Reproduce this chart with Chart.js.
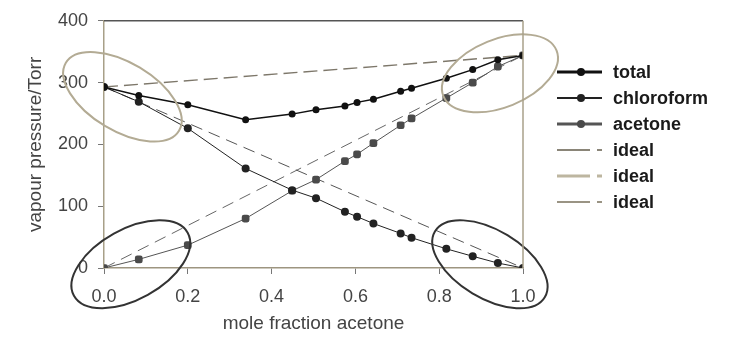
<!DOCTYPE html>
<html><head><meta charset="utf-8">
<script src="https://cdn.jsdelivr.net/npm/chart.js@4"></script>
<style>html,body{margin:0;padding:0;background:#fff}#wrap{width:729px;height:339px}</style>
</head><body><div id="wrap"><canvas id="c" width="729" height="339"></canvas></div>
<script>
// ---- data ----
const moleFraction       = [0, 0.083, 0.2, 0.338, 0.449, 0.506, 0.575, 0.604, 0.643, 0.708, 0.734, 0.817, 0.880, 0.940, 1.0];
const totalPressure      = [293, 279, 264, 240, 249, 256, 262, 268, 273, 286, 291, 307, 321, 337, 344];
const chloroformPressure = [293, 269, 226, 161, 126, 113, 91, 83, 72, 56, 49, 31, 19, 8, 0];
const acetonePressure    = [0, 14, 37, 80, 125, 143, 173, 184, 202, 231, 242, 275, 300, 326, 344];
const idealX             = [0, 1];
const idealTotal         = [293, 344];
const idealChloroform    = [293, 0];
const idealAcetone       = [0, 344];
const xTickValues        = [0, 0.2, 0.4, 0.6, 0.8, 1.0];
const yTickValues        = [0, 100, 200, 300, 400];
const seriesLabels       = ['total', 'chloroform', 'acetone', 'ideal', 'ideal', 'ideal'];
// highlighted regions (centre in data units)
const ringCentresX       = [0.044, 0.945, 0.064, 0.921];
const ringCentresY       = [277, 315, 6, 6];

const pts = (xs, ys) => xs.map((x, i) => ({x, y: ys[i]}));
const FONT = "'Liberation Sans', Arial, sans-serif";

const ringStyle = [
  {a: 66, b: 34, rot: 31, color: '#b3ab94'},
  {a: 61, b: 34, rot: -22, color: '#b3ab94'},
  {a: 65, b: 35, rot: -29, color: '#333333'},
  {a: 64, b: 34, rot: 31, color: '#333333'}
];

const ringsPlugin = {
  id: 'rings',
  afterDatasetsDraw(chart) {
    const {ctx, scales: {x, y}} = chart;
    ctx.save();
    ringCentresX.forEach((cx, i) => {
      const s = ringStyle[i];
      ctx.beginPath();
      ctx.ellipse(x.getPixelForValue(cx), y.getPixelForValue(ringCentresY[i]), s.a, s.b, s.rot * Math.PI / 180, 0, Math.PI * 2);
      ctx.strokeStyle = s.color;
      ctx.lineWidth = 2;
      ctx.stroke();
    });
    ctx.restore();
  }
};

const framePlugin = {
  id: 'frame',
  afterDraw(chart) {
    const {ctx, chartArea: a} = chart;
    ctx.save();
    ctx.lineWidth = 1.5;
    ctx.strokeStyle = '#555';
    ctx.beginPath(); ctx.moveTo(a.left, a.top); ctx.lineTo(a.right, a.top); ctx.stroke();
    ctx.strokeStyle = '#a9a18a';
    ctx.beginPath(); ctx.moveTo(a.right, a.top); ctx.lineTo(a.right, a.bottom); ctx.stroke();
    ctx.restore();
  }
};

const legendPlugin = {
  id: 'sideLegend',
  afterDraw(chart) {
    const {ctx} = chart;
    const x0 = 557, x1 = 600, tx = 613, y0 = 72, dy = 26;
    ctx.save();
    chart.data.datasets.forEach((ds, i) => {
      const yy = y0 + i * dy;
      ctx.strokeStyle = ds.legendColor || ds.borderColor;
      ctx.lineWidth = ds.legendWidth;
      ctx.setLineDash(ds.legendDash || []);
      ctx.beginPath(); ctx.moveTo(x0, yy); ctx.lineTo(x1 + 2, yy); ctx.stroke();
      ctx.setLineDash([]);
      if (ds.pointRadius > 0) {
        ctx.fillStyle = ds.pointBackgroundColor;
        ctx.beginPath(); ctx.arc(581, yy, 4, 0, Math.PI * 2); ctx.fill();
      }
      ctx.fillStyle = '#1a1a1a';
      ctx.font = "bold 18px " + FONT;
      ctx.textBaseline = 'middle';
      ctx.textAlign = 'left';
      ctx.fillText(ds.label, tx, yy + 1);
    });
    ctx.restore();
  }
};

new Chart(document.getElementById('c'), {
  type: 'line',
  data: {
    datasets: [
      {label: seriesLabels[0], data: pts(moleFraction, totalPressure), borderColor: '#111', borderWidth: 1.5,
       pointRadius: 3.5, pointBackgroundColor: '#111', pointBorderWidth: 0, legendWidth: 3},
      {label: seriesLabels[1], data: pts(moleFraction, chloroformPressure), borderColor: '#222', borderWidth: 1,
       pointRadius: 4, pointBackgroundColor: '#222', pointBorderWidth: 0, legendWidth: 2},
      {label: seriesLabels[2], data: pts(moleFraction, acetonePressure), borderColor: '#555', borderWidth: 1,
       pointStyle: 'rectRounded', pointRadius: 4.5, pointBackgroundColor: '#4a4a4a', pointBorderWidth: 0, legendWidth: 3},
      {label: seriesLabels[3], data: pts(idealX, idealTotal), borderColor: '#7d776a', borderWidth: 1.5, borderDash: [14, 6],
       pointRadius: 0, legendWidth: 2, legendColor: '#8a8578', legendDash: [33, 7, 5, 100]},
      {label: seriesLabels[4], data: pts(idealX, idealChloroform), borderColor: '#555', borderWidth: 1, borderDash: [12, 7],
       pointRadius: 0, legendWidth: 3, legendColor: '#bdb6a0', legendDash: [33, 7, 5, 100]},
      {label: seriesLabels[5], data: pts(idealX, idealAcetone), borderColor: '#666', borderWidth: 1, borderDash: [12, 7],
       pointRadius: 0, legendWidth: 2, legendColor: '#9a9484', legendDash: [33, 7, 5, 100]}
    ]
  },
  options: {
    responsive: false,
    animation: false,
    devicePixelRatio: 1,
    layout: {padding: {left: 0, top: 18, right: 206, bottom: 0}},
    plugins: {legend: {display: false}, tooltip: {enabled: false}},
    elements: {line: {tension: 0}},
    scales: {
      x: {
        type: 'linear', min: 0, max: 1,
        afterBuildTicks: s => { s.ticks = xTickValues.map(v => ({value: v})); },
        afterFit: s => { s.height = 71; },
        ticks: {callback: v => v.toFixed(1), color: '#444', font: {family: FONT, size: 18}, padding: 12, maxRotation: 0},
        grid: {drawOnChartArea: false, drawTicks: true, tickLength: 6, color: '#777'},
        border: {color: '#9d9580', width: 1.5},
        title: {display: true, text: 'mole fraction acetone', color: '#444', font: {family: FONT, size: 19}, padding: {top: 0, bottom: 4}}
      },
      y: {
        min: 0, max: 400,
        afterBuildTicks: s => { s.ticks = yTickValues.map(v => ({value: v})); },
        afterFit: s => { s.width = 104; },
        ticks: {color: '#444', font: {family: FONT, size: 18}, padding: 10},
        grid: {drawOnChartArea: false, drawTicks: true, tickLength: 6, color: '#777'},
        border: {color: '#a8a088', width: 1.5},
        title: {display: true, text: 'vapour pressure/Torr', color: '#444', font: {family: FONT, size: 19}, padding: {top: 24, bottom: 0}}
      }
    }
  },
  plugins: [ringsPlugin, framePlugin, legendPlugin]
});
</script>
</body></html>
